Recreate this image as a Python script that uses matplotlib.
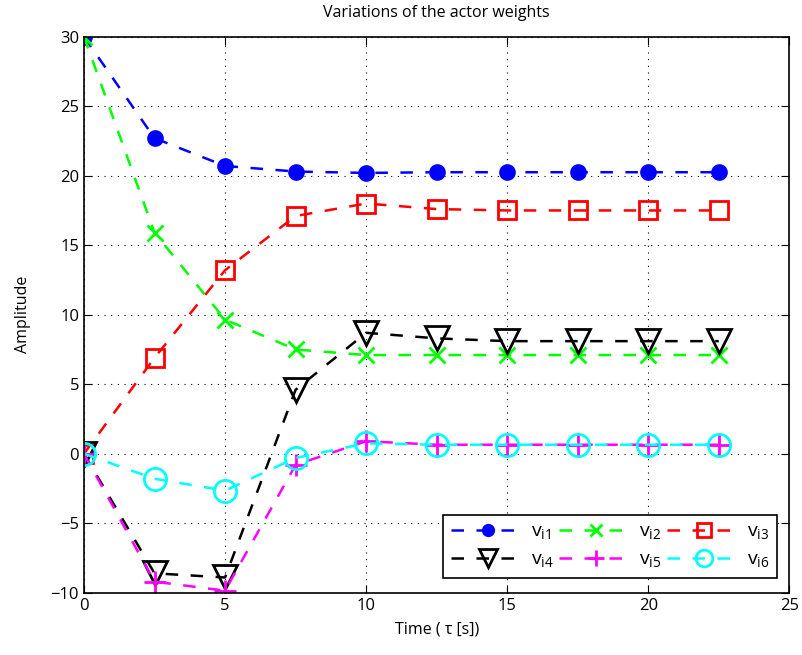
import matplotlib
matplotlib.use("Agg")
import matplotlib.pyplot as plt

plt.rcParams['font.family'] = ['Open Sans', 'DejaVu Sans']

t = [0, 2.5, 5, 7.5, 10, 12.5, 15, 17.5, 20, 22.5]

v_i1 = [30, 22.7, 20.7, 20.3, 20.2, 20.25, 20.25, 20.25, 20.25, 20.25]
v_i2 = [30, 15.9, 9.65, 7.5, 7.1, 7.1, 7.1, 7.1, 7.1, 7.1]
v_i3 = [0, 6.9, 13.2, 17.1, 18.0, 17.6, 17.5, 17.5, 17.5, 17.5]
v_i4 = [0, -8.6, -8.9, 4.6, 8.7, 8.3, 8.1, 8.1, 8.1, 8.1]
v_i5 = [0, -9.2, -9.85, -0.8, 0.9, 0.65, 0.65, 0.65, 0.65, 0.65]
v_i6 = [0, -1.8, -2.65, -0.3, 0.75, 0.65, 0.65, 0.65, 0.65, 0.65]

series = [
    (v_i1, 'v$_\\mathregular{i1}$', (0, 0, 1), 'o', True, 10),
    (v_i2, 'v$_\\mathregular{i2}$', (0, 1, 0), 'x', True, 12),
    (v_i3, 'v$_\\mathregular{i3}$', (1, 0, 0), 's', False, 13),
    (v_i4, 'v$_\\mathregular{i4}$', (0, 0, 0), 'v', False, 17),
    (v_i5, 'v$_\\mathregular{i5}$', (1, 0, 1), '+', True, 16),
    (v_i6, 'v$_\\mathregular{i6}$', (0, 1, 1), 'o', False, 16),
]

fig = plt.figure(figsize=(8.02, 6.55), dpi=100)
ax = fig.add_axes([0.1047, 0.095, 0.8795, 0.849])

lines = []
for vals, name, col, mk, filled, ms in series:
    ln, = ax.plot(t, vals, color=col, linestyle='--', dashes=(5, 5), lw=1.8,
                  marker=mk, markersize=ms, markeredgewidth=2,
                  markerfacecolor=col if filled else 'none', markeredgecolor=col,
                  label=name)
    lines.append(ln)

ax.set_xlim(0, 25)
ax.set_ylim(-10, 30)
ax.set_xticks(range(0, 26, 5))
ax.set_yticks(range(-10, 31, 5))
ax.set_yticklabels(['\u221210', '\u22125', '0', '5', '10', '15', '20', '25', '30'])
ax.grid(True, color='black', linestyle=(0, (1, 5)), linewidth=0.8)
ax.tick_params(direction='in', top=True, right=True, length=6, labelsize=12)
for sp in ax.spines.values():
    sp.set_linewidth(1.2)

ax.set_title('Variations of the actor weights', fontsize=11.5, pad=14)
ax.set_xlabel('Time ( \u03c4 [s])', fontsize=11.5, labelpad=6)
ax.set_ylabel('Amplitude', fontsize=11.5, labelpad=14)

order = [0, 3, 1, 4, 2, 5]
leg = ax.legend([lines[i] for i in order], [lines[i].get_label() for i in order],
                ncol=3, loc='lower right', bbox_to_anchor=(0.983, 0.027),
                fancybox=False, edgecolor='black', framealpha=1,
                fontsize=14, handlelength=3.8, columnspacing=0.3,
                handletextpad=0.3, borderpad=0.4, labelspacing=0.45,
                markerscale=0.75, borderaxespad=0)
leg.get_frame().set_linewidth(1.2)

fig.savefig('out.png', dpi=100)
